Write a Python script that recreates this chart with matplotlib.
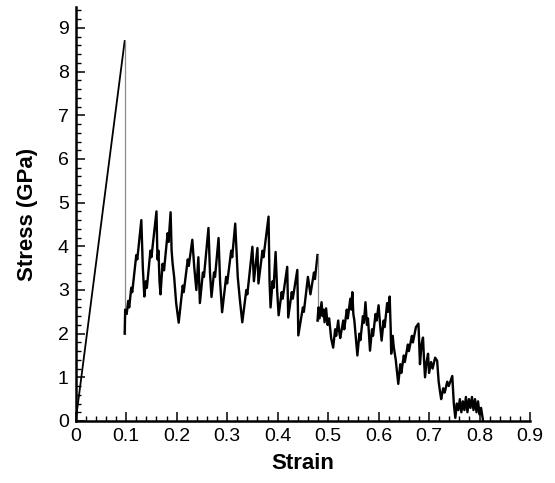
import matplotlib
matplotlib.use("Agg")
import matplotlib.pyplot as plt
import numpy as np
from matplotlib.ticker import MultipleLocator

plt.rcParams['font.family'] = ['Liberation Sans', 'DejaVu Sans']

# Stress-strain curve
strain = [0.000, 0.097, 0.097, 0.098, 0.101, 0.104, 0.106, 0.110, 0.112, 0.120,
          0.122, 0.130, 0.133, 0.136, 0.139, 0.141, 0.148, 0.150, 0.160, 0.162,
          0.164, 0.166, 0.168, 0.172, 0.175, 0.182, 0.184, 0.188, 0.190, 0.192,
          0.195, 0.199, 0.204, 0.212, 0.214, 0.222, 0.224, 0.231, 0.235, 0.239,
          0.243, 0.246, 0.252, 0.254, 0.263, 0.266, 0.269, 0.274, 0.276, 0.283,
          0.286, 0.290, 0.298, 0.300, 0.308, 0.310, 0.316, 0.321, 0.325, 0.330,
          0.338, 0.340, 0.350, 0.353, 0.360, 0.362, 0.370, 0.372, 0.382, 0.384,
          0.386, 0.390, 0.392, 0.396, 0.399, 0.402, 0.408, 0.410, 0.419, 0.421,
          0.428, 0.430, 0.439, 0.441, 0.450, 0.452, 0.460, 0.465, 0.472, 0.474,
          0.479, 0.479, 0.481, 0.483, 0.487, 0.489, 0.491, 0.493, 0.496, 0.499,
          0.502, 0.506, 0.510, 0.514, 0.516, 0.520, 0.522, 0.524, 0.530, 0.532,
          0.537, 0.539, 0.544, 0.546, 0.548, 0.550, 0.552, 0.555, 0.558, 0.562,
          0.564, 0.569, 0.571, 0.574, 0.577, 0.579, 0.583, 0.587, 0.589, 0.594,
          0.596, 0.600, 0.603, 0.606, 0.610, 0.612, 0.617, 0.619, 0.622, 0.624,
          0.625, 0.628, 0.630, 0.634, 0.639, 0.643, 0.645, 0.650, 0.652, 0.658,
          0.660, 0.666, 0.668, 0.674, 0.679, 0.681, 0.682, 0.685, 0.688, 0.690,
          0.692, 0.695, 0.698, 0.700, 0.704, 0.707, 0.712, 0.716, 0.719, 0.722,
          0.724, 0.728, 0.731, 0.736, 0.739, 0.746, 0.749, 0.752, 0.755, 0.758,
          0.761, 0.764, 0.767, 0.770, 0.773, 0.776, 0.779, 0.782, 0.785, 0.788,
          0.791, 0.794, 0.797, 0.800, 0.803, 0.807]
stress = [0.00, 8.70, 2.00, 2.55, 2.45, 2.75, 2.60, 3.05, 2.95, 3.80,
          3.70, 4.60, 3.50, 2.85, 3.20, 3.05, 3.90, 3.75, 4.80, 3.70,
          3.90, 3.20, 2.90, 3.60, 3.45, 4.30, 4.10, 4.78, 3.90, 3.60,
          3.30, 2.70, 2.25, 3.10, 2.95, 3.70, 3.55, 4.15, 3.50, 3.00,
          3.75, 2.70, 3.40, 3.30, 4.42, 3.40, 2.84, 3.40, 3.30, 4.19,
          3.20, 2.49, 3.30, 3.15, 3.90, 3.75, 4.52, 3.30, 2.80, 2.26,
          3.00, 2.90, 3.99, 3.20, 3.96, 3.15, 3.90, 3.75, 4.68, 3.20,
          2.60, 3.20, 3.05, 3.87, 3.00, 2.42, 2.95, 2.80, 3.53, 2.37,
          2.95, 2.80, 3.46, 1.96, 2.60, 2.50, 3.30, 2.90, 3.40, 3.25,
          3.80, 2.30, 2.60, 2.35, 2.72, 2.40, 2.55, 2.26, 2.58, 2.20,
          2.35, 1.90, 1.68, 2.10, 1.95, 2.30, 2.05, 1.90, 2.30, 2.10,
          2.55, 2.35, 2.80, 2.55, 2.95, 2.45, 2.30, 1.90, 1.50, 2.00,
          1.85, 2.40, 2.25, 2.72, 2.20, 2.35, 1.61, 2.10, 1.95, 2.45,
          2.30, 2.65, 2.20, 1.84, 2.30, 2.15, 2.70, 2.50, 2.85, 2.10,
          1.54, 1.95, 1.70, 1.40, 0.85, 1.30, 1.10, 1.50, 1.35, 1.75,
          1.60, 1.95, 1.80, 2.15, 2.23, 1.60, 1.30, 1.75, 1.91, 1.40,
          1.00, 1.35, 1.54, 1.10, 1.35, 1.20, 1.45, 1.38, 0.90, 0.65,
          0.50, 0.75, 0.65, 0.90, 0.80, 1.03, 0.40, 0.07, 0.40, 0.25,
          0.50, 0.20, 0.45, 0.25, 0.55, 0.20, 0.50, 0.30, 0.55, 0.25,
          0.50, 0.20, 0.45, 0.15, 0.30, 0.00]

x_ticks = [0, 0.1, 0.2, 0.3, 0.4, 0.5, 0.6, 0.7, 0.8, 0.9]
y_ticks = [0, 1, 2, 3, 4, 5, 6, 7, 8, 9]
x_ticklabels = ['0', '0.1', '0.2', '0.3', '0.4', '0.5', '0.6', '0.7', '0.8', '0.9']
y_ticklabels = ['0', '1', '2', '3', '4', '5', '6', '7', '8', '9']

fig = plt.figure(figsize=(5.55, 4.83), dpi=100)
ax = fig.add_axes([0.1364, 0.1284, 0.955 - 0.1364, 0.9855 - 0.1284])

s = np.array(strain)
t = np.array(stress)
# large vertical drops (same strain, big stress loss) are drawn as thin grey lines
drop_idx = [i for i in range(len(s) - 1) if s[i + 1] == s[i] and t[i] - t[i + 1] > 1.0]
start = 0
for k, d in enumerate(drop_idx):
    ax.plot(s[start:d + 1], t[start:d + 1], color='black',
            lw=1.3 if k == 0 else 1.7)
    ax.plot(s[d:d + 2], t[d:d + 2], color='#8a8a8a', lw=0.9)
    start = d + 1
ax.plot(s[start:], t[start:], color='black', lw=1.7)

ax.set_xlim(0, 0.9)
ax.set_ylim(0, 9.48)
ax.set_xticks(x_ticks)
ax.set_xticklabels(x_ticklabels)
ax.set_yticks(y_ticks)
ax.set_yticklabels(y_ticklabels)
ax.xaxis.set_minor_locator(MultipleLocator(0.02))
ax.yaxis.set_minor_locator(MultipleLocator(0.2))

for side in ['top', 'right']:
    ax.spines[side].set_visible(False)
for side in ['left', 'bottom']:
    ax.spines[side].set_linewidth(1.8)

ax.tick_params(which='major', direction='in', length=6.5, width=1.1,
               labelsize=14, pad=5)
ax.tick_params(which='minor', direction='in', length=3.5, width=1.0)

ax.set_xlabel('Strain', fontsize=16, fontweight='bold', labelpad=6)
ax.set_ylabel('Stress (GPa)', fontsize=16, fontweight='bold', labelpad=14)

fig.savefig('out.png', dpi=100)
